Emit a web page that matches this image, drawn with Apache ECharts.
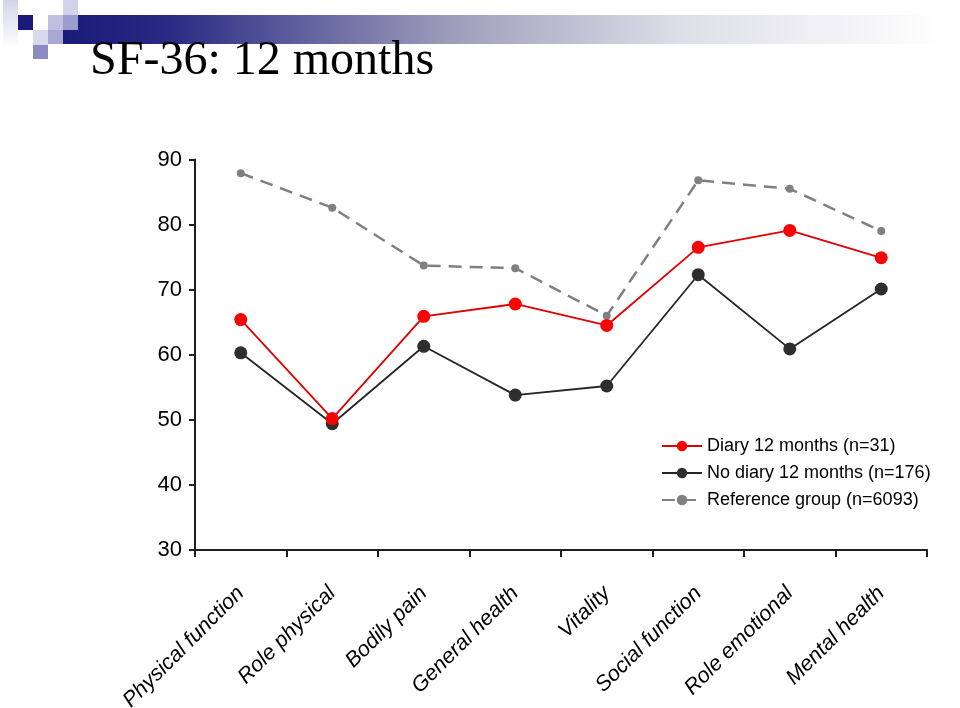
<!DOCTYPE html>
<html>
<head>
<meta charset="utf-8">
<script src="https://cdn.jsdelivr.net/npm/echarts@6/dist/echarts.min.js"></script>
<style>
html,body{margin:0;padding:0;background:#fff;}
#chart{width:960px;height:708px;}
</style>
</head>
<body>
<div id="chart"></div>
<script>
const categories = ['Physical function','Role physical','Bodily pain','General health','Vitality','Social function','Role emotional','Mental health'];
const diary = [65.4, 50.2, 65.9, 67.8, 64.5, 76.5, 79.1, 74.9];
const noDiary = [60.3, 49.4, 61.3, 53.8, 55.2, 72.3, 60.9, 70.1];
const referenceGroup = [87.9, 82.6, 73.7, 73.3, 66.0, 86.8, 85.5, 79.0];
const seriesNames = ['Diary 12 months (n=31)', 'No diary 12 months (n=176)', 'Reference group (n=6093)'];
const titleText = 'SF-36: 12 months';

const chart = echarts.init(document.getElementById('chart'), null, {renderer:'canvas'});
const font = 'Liberation Sans, Arial, sans-serif';

const option = {
  animation: false,
  backgroundColor: '#ffffff',
  title: {
    text: titleText,
    left: 85, top: 32,
    textStyle: {fontFamily: 'Liberation Serif, Times New Roman, serif', fontSize: 48, fontWeight: 'normal', color: '#000'}
  },
  graphic: [
    {type:'rect', shape:{x:63,y:15,width:880,height:29}, style:{fill:{type:'linear',x:0,y:0,x2:1,y2:0,colorStops:[
      {offset:0,color:'#1a1a78'},{offset:0.12,color:'#2a2a84'},{offset:0.45,color:'#a0a0bd'},{offset:0.7,color:'#dedee8'},{offset:1,color:'#ffffff'}]}}},
    {type:'rect', shape:{x:3,y:0,width:15,height:48}, style:{fill:{type:'linear',x:0,y:0,x2:0,y2:1,colorStops:[{offset:0,color:'#d4d4ec'},{offset:1,color:'#ffffff'}]}}},
    {type:'rect', shape:{x:18,y:15,width:15,height:15}, style:{fill:'#1a1a78'}},
    {type:'rect', shape:{x:63,y:0,width:15,height:15}, style:{fill:'#d2d2e8'}},
    {type:'rect', shape:{x:48,y:15,width:15,height:15}, style:{fill:'#c0c0de'}},
    {type:'rect', shape:{x:63,y:15,width:15,height:15}, style:{fill:'#9c9cce'}},
    {type:'rect', shape:{x:33,y:30,width:15,height:15}, style:{fill:'#d8d8ee'}},
    {type:'rect', shape:{x:48,y:30,width:15,height:14}, style:{fill:'#a8a8d4'}},
    {type:'rect', shape:{x:33,y:45,width:15,height:14}, style:{fill:'#8c8cc2'}}
  ],
  grid: {left: 195, right: 33, top: 159.5, bottom: 158, containLabel: false, outerBoundsMode: 'none'},
  legend: {
    orient: 'vertical',
    left: 656, top: 432,
    itemWidth: 40, itemHeight: 13, itemGap: 9,
    data: seriesNames,
    textStyle: {fontFamily: font, fontSize: 18, color: '#000'}
  },
  xAxis: {
    type: 'category',
    data: categories,
    boundaryGap: true,
    axisLine: {lineStyle: {color: '#1e1e1e', width: 2}},
    axisTick: {show: true, length: 7, inside: false, lineStyle: {color:'#1e1e1e', width: 2}},
    axisLabel: {rotate: 45, margin: 40, fontFamily: font, fontSize: 21.5, fontStyle: 'italic', color: '#000', interval: 0}
  },
  yAxis: {
    type: 'value',
    min: 30, max: 90, interval: 10,
    splitLine: {show: false},
    axisLine: {show: true, lineStyle: {color: '#1e1e1e', width: 2}},
    axisTick: {show: true, length: 6, lineStyle: {color:'#1e1e1e', width: 2}},
    axisLabel: {margin: 13, fontFamily: font, fontSize: 22, color: '#000'}
  },
  series: [
    {
      name: seriesNames[2], type: 'line', data: referenceGroup, z: 1,
      symbol: 'circle', symbolSize: 8,
      itemStyle: {color: '#808080'},
      lineStyle: {color: '#808080', width: 2.5, type: [13, 8]}
    },
    {
      name: seriesNames[1], type: 'line', data: noDiary, z: 2,
      symbol: 'circle', symbolSize: 13,
      itemStyle: {color: '#2e2e2e'},
      lineStyle: {color: '#262626', width: 1.8}
    },
    {
      name: seriesNames[0], type: 'line', data: diary, z: 3,
      symbol: 'circle', symbolSize: 13,
      itemStyle: {color: '#ff0000'},
      lineStyle: {color: '#e00000', width: 1.8}
    }
  ]
};
chart.setOption(option);
</script>
</body>
</html>
